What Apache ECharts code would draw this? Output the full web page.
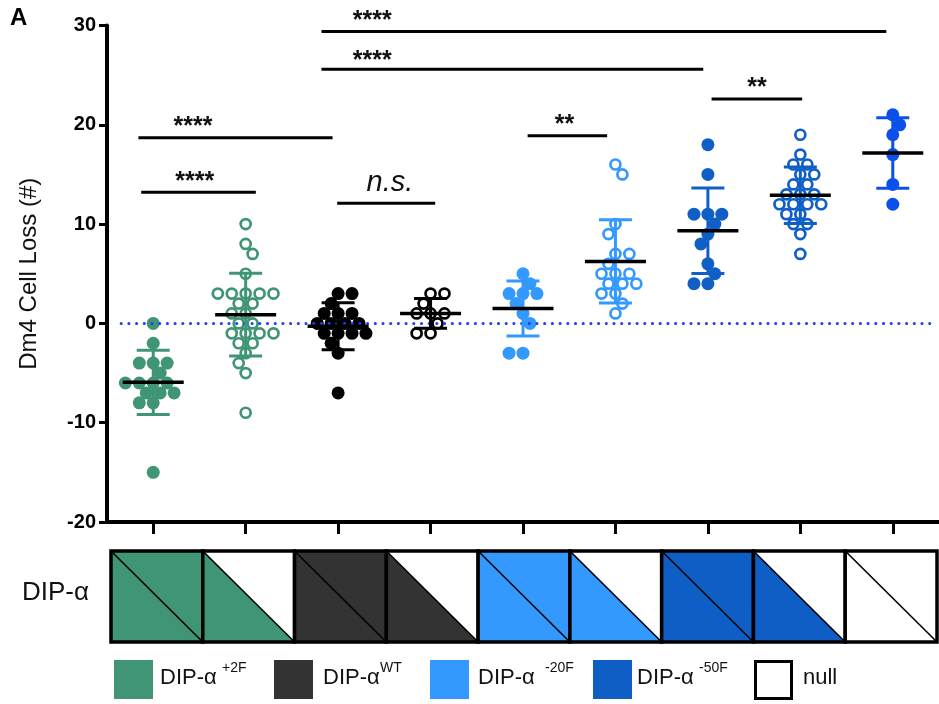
<!DOCTYPE html>
<html>
<head>
<meta charset="utf-8">
<script src="https://cdn.jsdelivr.net/npm/echarts@6/dist/echarts.min.js"></script>
<style>
  html, body { margin: 0; padding: 0; background: #fff; }
  #chart { width: 939px; height: 704px; }
</style>
</head>
<body>
<div id="chart"></div>
<script>
// genotype of each column (upper / lower triangle in the table)
const categories = ['+2F/+2F', '+2F/null', 'WT/WT', 'WT/null', '-20F/-20F', '-20F/null', '-50F/-50F', '-50F/null', 'null/null'];
const upperAllele = ['+2F', 'null', 'WT', 'null', '-20F', 'null', '-50F', 'null', 'null'];
const lowerAllele = ['+2F', '+2F', 'WT', 'WT', '-20F', '-20F', '-50F', '-50F', 'null'];

// Dm4 cell loss, one value per animal
const g1 = [0, -2, -4, -4, -4, -5, -6, -6, -6, -6, -7, -7, -7, -8, -8, -15];
const g2 = [10, 8, 7, 5, 3, 3, 3, 3, 3, 2, 2, 1, 1, 0, 0, -1, -1, -1, -1, -2, -2, -3, -4, -5, -9];
const g3 = [3, 3, 2, 1, 1, 1, 0, 0, 0, 0, -1, -1, -1, -1, -2, -3, -7];
const g4 = [3, 3, 2, 1, 1, 1, 0, -1, -1];
const g5 = [5, 4, 3, 3, 3, 2, 1, 0, -3, -3];
const g6 = [16, 15, 10, 9, 7, 7, 6, 5, 5, 5, 4, 4, 4, 3, 3, 2, 1];
const g7 = [18, 15, 11, 11, 11, 10, 9, 8, 6, 5, 4, 4];
const g8 = [19, 17, 16, 16, 15, 15, 14, 14, 13, 13, 13, 12, 12, 12, 12, 11, 11, 10, 10, 9, 7];
const g9 = [21, 20, 19, 17, 14, 12];
const cellLoss = [g1, g2, g3, g4, g5, g6, g7, g8, g9];

const yTicks = [-20, -10, 0, 10, 20, 30];

// significance bars: [from, to, level, label, labelX, labelY]
const stats = [
  [1.82, 7.93, 29.4, '****', 2.37, 30.9],
  [1.82, 5.95, 25.6, '****', 2.37, 26.9],
  [6.04, 7.02, 22.6, '**', 6.53, 24.2],
  [-0.16, 1.94, 18.7, '****', 0.43, 20.3],
  [4.05, 4.91, 18.9, '**', 4.45, 20.5],
  [-0.13, 1.11, 13.2, '****', 0.45, 14.7],
  [1.99, 3.05, 12.1, 'n.s.', 2.56, 14.1]
];

const legendItems = [['DIP-α', '+2F'], ['DIP-α', 'WT'], ['DIP-α', '-20F'], ['DIP-α', '-50F'], ['null', '']];
const legendAlleles = ['+2F', 'WT', '-20F', '-50F', 'null'];

// styles
const FONT = '"Liberation Sans", Arial, sans-serif';
const alleleColor = { '+2F': '#3f9574', 'WT': '#333333', '-20F': '#3399ff', '-50F': '#0e5ec6', 'null': '#ffffff' };
const dotColor = ['#3f9574', '#3f9574', '#000000', '#000000', '#3399ff', '#3399ff', '#0f5fc6', '#0f5fc6', '#0b50ea'];
const hollow = [false, true, false, true, false, true, false, true, false];
const PX = 93; // pixels per column

function mean(a) { return a.reduce((s, v) => s + v, 0) / a.length; }
function sd(a) {
  const m = mean(a);
  return Math.sqrt(a.reduce((s, v) => s + (v - m) * (v - m), 0) / (a.length - 1));
}

// simple beeswarm: nearest free horizontal slot for each point
function swarm(vals) {
  const placed = [];
  let flip = 1;
  return vals.map(v => {
    const ok = x => placed.every(p => {
      const dv = Math.abs(p[1] - v);
      if (dv === 0) return Math.abs(p[0] - x) >= 14;
      if (dv === 1) return Math.abs(p[0] - x) >= 7;
      return true;
    });
    let x = 0;
    if (!ok(0)) {
      for (let d = 0.5; d < 80; d += 0.5) {
        if (ok(flip * d)) { x = flip * d; break; }
        if (ok(-flip * d)) { x = -flip * d; break; }
      }
      flip = -flip;
    }
    placed.push([x, v]);
    return x / PX;
  });
}

const means = cellLoss.map(mean);
const sds = cellLoss.map(sd);

const chart = echarts.init(document.getElementById('chart'));

const series = [];
cellLoss.forEach((vals, i) => {
  const off = swarm(vals);
  series.push({
    type: 'scatter',
    xAxisIndex: 0, yAxisIndex: 0,
    data: vals.map((v, k) => [i + off[k], v]),
    symbolSize: hollow[i] ? 10 : 13,
    itemStyle: hollow[i]
      ? { color: '#fff', borderColor: dotColor[i], borderWidth: 2.7, opacity: 1 }
      : { color: dotColor[i], opacity: 1 },
    z: 2,
    silent: true
  });
});

// dotted zero line
series.push({
  type: 'custom',
  xAxisIndex: 0, yAxisIndex: 0,
  data: [[-0.347, 8.45]],
  z: 3,
  renderItem: (params, api) => {
    const a = api.coord([api.value(0), 0]);
    const b = api.coord([api.value(1), 0]);
    return {
      type: 'line',
      shape: { x1: a[0], y1: a[1], x2: b[0], y2: b[1] },
      style: { stroke: '#2040f0', lineWidth: 3, lineDash: [0.1, 7.6], lineCap: 'round' }
    };
  }
});

// mean +/- SD
series.push({
  type: 'custom',
  xAxisIndex: 0, yAxisIndex: 0,
  data: means.map((m, i) => [i, m]),
  z: 4,
  renderItem: (params, api) => {
    const i = params.dataIndex;
    const m = means[i], s = sds[i];
    const t = api.coord([i, m + s]), b = api.coord([i, m - s]), c = api.coord([i, m]);
    const col = dotColor[i];
    const st = { stroke: col, lineWidth: 3 };
    return {
      type: 'group',
      children: [
        { type: 'line', shape: { x1: t[0], y1: t[1], x2: b[0], y2: b[1] }, style: st },
        { type: 'line', shape: { x1: t[0] - 16.5, y1: t[1], x2: t[0] + 16.5, y2: t[1] }, style: st },
        { type: 'line', shape: { x1: b[0] - 16.5, y1: b[1], x2: b[0] + 16.5, y2: b[1] }, style: st },
        { type: 'line', shape: { x1: c[0] - 30.5, y1: c[1], x2: c[0] + 30.5, y2: c[1] }, style: { stroke: '#000', lineWidth: 3.5 } }
      ]
    };
  }
});

// significance bars
series.push({
  type: 'custom',
  xAxisIndex: 0, yAxisIndex: 0,
  data: stats.map(s => [s[0], s[2]]),
  z: 5,
  renderItem: (params, api) => {
    const s = stats[params.dataIndex];
    const p1 = api.coord([s[0], s[2]]), p2 = api.coord([s[1], s[2]]), t = api.coord([s[4], s[5]]);
    const ns = s[3] === 'n.s.';
    return {
      type: 'group',
      children: [
        { type: 'line', shape: { x1: p1[0], y1: p1[1], x2: p2[0], y2: p2[1] }, style: { stroke: '#000', lineWidth: 3 } },
        {
          type: 'text', x: t[0], y: t[1] + (ns ? 0 : 5),
          style: {
            text: s[3], fill: '#111', fontFamily: FONT,
            fontSize: ns ? 29 : 25, fontWeight: ns ? 'normal' : 'bold', fontStyle: ns ? 'italic' : 'normal',
            align: 'center', verticalAlign: 'middle', textAlign: 'center', textVerticalAlign: 'middle'
          }
        }
      ]
    };
  }
});

// genotype table
series.push({
  type: 'custom',
  xAxisIndex: 1, yAxisIndex: 1,
  data: categories.map((c, i) => [i, 0.5]),
  z: 2,
  renderItem: (params, api) => {
    const i = params.dataIndex;
    const tl = api.coord([i - 0.5, 1]), br = api.coord([i + 0.5, 0]);
    return {
      type: 'group',
      children: [
        { type: 'polygon', shape: { points: [[tl[0], tl[1]], [tl[0], br[1]], [br[0], br[1]]] }, style: { fill: alleleColor[lowerAllele[i]] } },
        { type: 'polygon', shape: { points: [[tl[0], tl[1]], [br[0], tl[1]], [br[0], br[1]]] }, style: { fill: alleleColor[upperAllele[i]] } },
        { type: 'line', shape: { x1: tl[0], y1: tl[1], x2: br[0], y2: br[1] }, style: { stroke: '#000', lineWidth: 1.6 } },
        { type: 'rect', shape: { x: tl[0], y: tl[1], width: br[0] - tl[0], height: br[1] - tl[1] }, style: { fill: 'none', stroke: '#000', lineWidth: 3.5 } }
      ]
    };
  }
});

// legend built from the allele colours
const graphics = [
  { type: 'text', left: 10, top: 6, style: { text: 'A', fontFamily: FONT, fontSize: 24, fontWeight: 'bold', fill: '#000' } },
  { type: 'text', left: 22, top: 580, style: { text: 'DIP-α', fontFamily: FONT, fontSize: 26, fill: '#111' } }
];
const legendX = [114, 274, 430, 593, 754];
const textX = [160, 323, 478, 637, 803];
const supX = [222, 380, 545, 699, 0];
legendItems.forEach((it, k) => {
  const isNull = legendAlleles[k] === 'null';
  graphics.push({
    type: 'rect', left: legendX[k], top: 660,
    shape: { width: isNull ? 36 : 39, height: isNull ? 37 : 39 },
    style: { fill: alleleColor[legendAlleles[k]], stroke: isNull ? '#000' : null, lineWidth: isNull ? 3 : 0 }
  });
  graphics.push({ type: 'text', left: textX[k], top: 667, style: { text: it[0], fontFamily: FONT, fontSize: 22, fill: '#111' } });
  if (it[1]) {
    graphics.push({ type: 'text', left: supX[k], top: 661, style: { text: it[1], fontFamily: FONT, fontSize: 14, fill: '#111' } });
  }
});

chart.setOption({
  animation: false,
  backgroundColor: '#fff',
  grid: [
    { left: 107, top: 25.5, width: 837, height: 496.5 },
    { left: 111, top: 551, width: 826, height: 91 }
  ],
  xAxis: [
    {
      type: 'value', gridIndex: 0, min: -0.5, max: 8.5,
      axisLine: { onZero: false, lineStyle: { color: '#000', width: 4 } },
      axisTick: { show: true, customValues: categories.map((c, i) => i), length: 12, lineStyle: { color: '#000', width: 3 } },
      axisLabel: { show: false },
      splitLine: { show: false }
    },
    { type: 'value', gridIndex: 1, min: -0.5, max: 8.5, show: false }
  ],
  yAxis: [
    {
      type: 'value', gridIndex: 0, min: yTicks[0], max: yTicks[yTicks.length - 1], interval: 10,
      name: 'Dm4 Cell Loss (#)', nameLocation: 'middle', nameGap: 66,
      nameTextStyle: { fontFamily: FONT, fontSize: 24, color: '#111' },
      axisLine: { show: true, onZero: false, lineStyle: { color: '#000', width: 4 } },
      axisTick: { show: true, length: 8, lineStyle: { color: '#000', width: 3 } },
      axisLabel: { fontFamily: FONT, fontSize: 20, fontWeight: 'bold', color: '#000', margin: 11 },
      splitLine: { show: false }
    },
    { type: 'value', gridIndex: 1, min: 0, max: 1, show: false }
  ],
  graphic: graphics,
  series: series
});
</script>
</body>
</html>
